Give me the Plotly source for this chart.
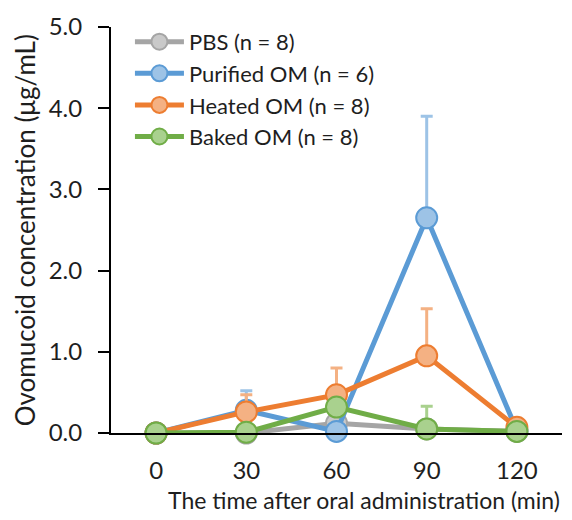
import plotly.graph_objects as go

times = ["0", "30", "60", "90", "120"]
pbs = [0.0, 0.0, 0.12, 0.05, 0.02]
pbs_err = [0, 0, 0, 0, 0]
purified = [0.0, 0.28, 0.02, 2.65, 0.03]
purified_err = [0, 0.24, 0, 1.25, 0]
heated = [0.0, 0.26, 0.47, 0.95, 0.07]
heated_err = [0, 0.21, 0.33, 0.58, 0]
baked = [0.0, 0.01, 0.32, 0.05, 0.02]
baked_err = [0, 0, 0, 0.28, 0]

series = [
    ("PBS (n = 8)", pbs, pbs_err, "#A5A5A5", "#C9C9C9"),
    ("Purified OM (n = 6)", purified, purified_err, "#5B9BD5", "#9DC3E6"),
    ("Heated OM (n = 8)", heated, heated_err, "#ED7D31", "#F4B183"),
    ("Baked OM (n = 8)", baked, baked_err, "#70AD47", "#A9D18E"),
]

font = "Lato, 'Open Sans', sans-serif"
txt = "#1e1e1e"
fig = go.Figure()
for name, vals, err, col, light in series:
    fig.add_trace(go.Scatter(
        x=times, y=vals, name=name, mode="lines+markers",
        line=dict(color=col, width=5),
        marker=dict(size=21, color=light, line=dict(color=col, width=2)),
        error_y=dict(type="data", symmetric=False, array=err, arrayminus=[0]*len(err),
                     color=light, thickness=3, width=6, visible=True),
        cliponaxis=False,
    ))

fig.update_layout(
    width=572, height=520,
    margin=dict(l=111, r=10, t=27, b=87),
    paper_bgcolor="white", plot_bgcolor="white",
    font=dict(family=font, size=20, color=txt),
    showlegend=True,
    legend=dict(x=0.042, y=1.015, xanchor="left", yanchor="top",
                font=dict(size=22), bgcolor="rgba(0,0,0,0)",
                tracegroupgap=0, itemwidth=49),
    xaxis=dict(type="category", range=[-0.5, 4.5], showline=True, linecolor="black",
               linewidth=2, ticks="", showgrid=False, zeroline=False,
               ticklabelstandoff=15,
               tickfont=dict(size=24, color=txt)),
    yaxis=dict(range=[0, 5], dtick=1, tickformat=".1f", showline=True, linecolor="black",
               linewidth=2, ticks="outside", ticklen=11, tickwidth=2, tickcolor="black",
               showgrid=False, zeroline=False, ticklabelstandoff=11,
               tickfont=dict(size=24, color=txt)),
    annotations=[
        dict(text="The time after oral administration (min)", xref="paper", yref="paper",
             x=1.0, xanchor="right", y=-0.165, yanchor="middle", showarrow=False,
             font=dict(size=23, color=txt)),
        dict(text="Ovomucoid concentration (μg/mL)", xref="paper", yref="paper",
             x=-0.19, xanchor="center", y=0.5, yanchor="middle", showarrow=False,
             textangle=-90, font=dict(size=26, color=txt)),
    ],
)

fig.write_html("out.html")
